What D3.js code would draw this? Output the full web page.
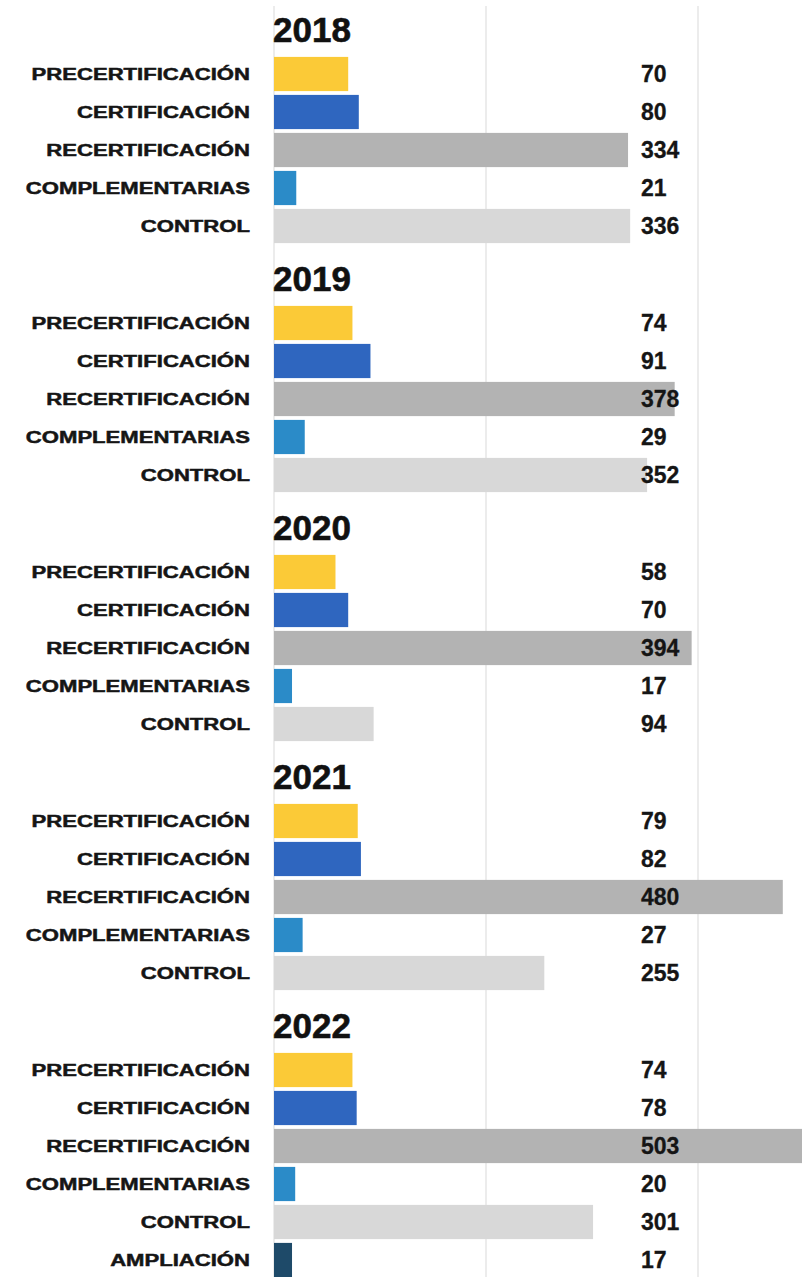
<!DOCTYPE html>
<html>
<head>
<meta charset="utf-8">
<script src="https://cdn.jsdelivr.net/npm/d3@7"></script>
<style>
  body { margin: 0; background: #fff; }
  svg { display: block; }
</style>
</head>
<body>
<svg id="canvas" width="802" height="1277"></svg>
<script>
// data
var years = ['2018', '2019', '2020', '2021', '2022'];
var categories = ['PRECERTIFICACIÓN', 'CERTIFICACIÓN', 'RECERTIFICACIÓN', 'COMPLEMENTARIAS', 'CONTROL', 'AMPLIACIÓN'];
var colors = ['#fbca37', '#2f66bf', '#b3b3b3', '#2b8bc8', '#d8d8d8', '#1e4a69'];
var values2018 = [70, 80, 334, 21, 336];
var values2019 = [74, 91, 378, 29, 352];
var values2020 = [58, 70, 394, 17, 94];
var values2021 = [79, 82, 480, 27, 255];
var values2022 = [74, 78, 503, 20, 301, 17];
var gridTicks = [0, 200, 400];

var allValues = [values2018, values2019, values2020, values2021, values2022];

var WIDTH = 802, HEIGHT = 1277;
var BAR_LEFT = 274;
var ROW_STEP = 38;
var GROUP_STEP = 249;

var svg = d3.select('#canvas');

var x = d3.scaleLinear()
    .domain([0, 500])
    .range([BAR_LEFT, BAR_LEFT + 530]);

var yGroup = d3.scaleBand()
    .domain(years)
    .range([8, 8 + GROUP_STEP * years.length]);

var yRow = d3.scaleBand()
    .domain(categories)
    .range([0, ROW_STEP * categories.length])
    .paddingInner(0.1)
    .paddingOuter(0.05);

// grid
svg.append('g')
    .selectAll('line')
    .data(gridTicks)
    .enter().append('line')
    .attr('x1', function(d) { return x(d); })
    .attr('x2', function(d) { return x(d); })
    .attr('y1', 6)
    .attr('y2', HEIGHT)
    .attr('stroke', '#e6e6e6')
    .attr('stroke-width', 1.5);

var groups = svg.selectAll('g.year')
    .data(years)
    .enter().append('g')
    .attr('class', 'year')
    .attr('transform', function(d) { return 'translate(0,' + yGroup(d) + ')'; });

groups.append('text')
    .attr('x', BAR_LEFT - 1)
    .attr('y', 34)
    .attr('font-family', 'Liberation Sans, Arial, sans-serif')
    .attr('font-weight', 'bold')
    .attr('font-size', '35px')
    .attr('fill', '#111')
    .attr('stroke', '#111')
    .attr('stroke-width', 0.6)
    .text(function(d) { return d; });

var rows = groups.append('g')
    .attr('transform', 'translate(0,47)')
    .selectAll('g.row')
    .data(function(d, i) {
        return allValues[i].map(function(v, j) {
            return { cat: categories[j], value: v, color: colors[j] };
        });
    })
    .enter().append('g')
    .attr('class', 'row')
    .attr('transform', function(d) { return 'translate(0,' + yRow(d.cat) + ')'; });

rows.append('rect')
    .attr('x', x(0))
    .attr('y', 0)
    .attr('width', function(d) { return x(d.value) - x(0); })
    .attr('height', yRow.bandwidth())
    .attr('fill', function(d) { return d.color; });

// category labels are drawn wide and heavy, like the original
rows.append('g')
    .attr('transform', 'translate(250,' + (yRow.bandwidth() / 2) + ') scale(1.3,1)')
    .append('text')
    .attr('text-anchor', 'end')
    .attr('dy', '0.36em')
    .attr('font-family', 'Liberation Sans, Arial, sans-serif')
    .attr('font-weight', 'bold')
    .attr('font-size', '17px')
    .attr('fill', '#151515')
    .attr('stroke', '#151515')
    .attr('stroke-width', 0.5)
    .text(function(d) { return d.cat; });

rows.append('text')
    .attr('x', 641)
    .attr('y', yRow.bandwidth() / 2)
    .attr('dy', '0.36em')
    .attr('font-family', 'Liberation Sans, Arial, sans-serif')
    .attr('font-weight', 'bold')
    .attr('font-size', '23px')
    .attr('fill', '#151515')
    .attr('stroke', '#151515')
    .attr('stroke-width', 0.3)
    .text(function(d) { return d.value; });
</script>
</body>
</html>
